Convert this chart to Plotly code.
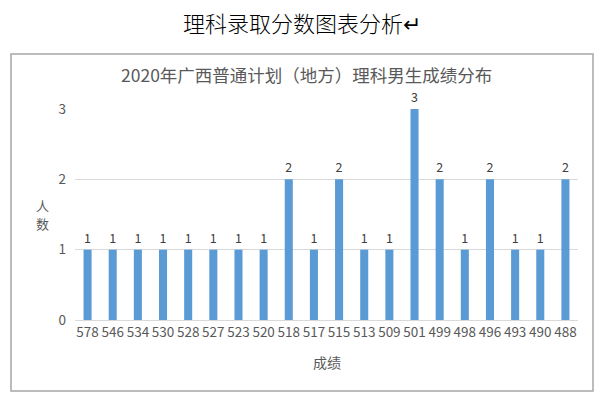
import plotly.graph_objects as go

scores = ["578", "546", "534", "530", "528", "527", "523", "520", "518", "517",
          "515", "513", "509", "501", "499", "498", "496", "493", "490", "488"]
counts = [1, 1, 1, 1, 1, 1, 1, 1, 2, 1, 2, 1, 1, 3, 2, 1, 2, 1, 1, 2]
y_ticks = [0, 1, 2, 3]

doc_title = "理科录取分数图表分析↵"
chart_title = "2020年广西普通计划（地方）理科男生成绩分布"
x_title = "成绩"
y_title_chars = ["人", "数"]

W, H = 600, 398
L, R, T, B = 75, 22, 109, 78
pw, ph = W - L - R, H - T - B

def px_x(x):
    return (x - L) / pw

def px_y(y):
    return (H - B - y) / ph

font = "Noto Sans CJK SC, Microsoft YaHei, sans-serif"
txt = "#595959"

fig = go.Figure(go.Bar(
    x=scores, y=counts,
    marker=dict(color="#5B9BD5", line=dict(width=0)),
    text=counts, textposition="outside", cliponaxis=False,
    textfont=dict(size=12.5, color="#404040", family=font),
))

annotations = [
    dict(text=doc_title, xref="paper", yref="paper", x=px_x(302), y=px_y(22),
         showarrow=False, font=dict(size=22, color="#000000", family="Noto Sans CJK SC", weight=300),
         xanchor="center", yanchor="middle"),
    dict(text=chart_title, xref="paper", yref="paper", x=px_x(306), y=px_y(75),
         showarrow=False, font=dict(size=17.5, color=txt, family=font),
         xanchor="center", yanchor="middle"),
    dict(text=x_title, xref="paper", yref="paper", x=px_x(327), y=px_y(362),
         showarrow=False, font=dict(size=14, color=txt, family=font),
         xanchor="center", yanchor="middle"),
]
for i, ch in enumerate(y_title_chars):
    annotations.append(dict(text=ch, xref="paper", yref="paper", x=px_x(42), y=px_y(205 + 18 * i),
                            showarrow=False, font=dict(size=13, color=txt, family=font),
                            xanchor="center", yanchor="middle"))

fig.update_layout(
    width=W, height=H,
    margin=dict(l=L, r=R, t=T, b=B),
    paper_bgcolor="white", plot_bgcolor="white",
    bargap=0.68,
    showlegend=False,
    font=dict(family=font, color=txt, size=13),
    xaxis=dict(type="category", showgrid=False, showline=True, linecolor="#d9d9d9",
               linewidth=1, ticks="", tickfont=dict(size=13.5, color=txt), tickangle=0),
    yaxis=dict(range=[0, 3], tickvals=y_ticks, showgrid=True, gridcolor="#d9d9d9",
               gridwidth=1, zeroline=False, showline=False, ticks="",
               tickfont=dict(size=13.5, color=txt), ticklabelstandoff=8),
    shapes=[dict(type="rect", xref="paper", yref="paper",
                 x0=px_x(11), x1=px_x(593), y0=px_y(391), y1=px_y(54),
                 line=dict(color="#a6a6a6", width=1.5), fillcolor="rgba(0,0,0,0)", layer="below")],
    annotations=annotations,
)

fig.write_html("out.html", config={"displayModeBar": False},
               post_script="document.body.style.margin='0';document.body.style.overflow='hidden';")
